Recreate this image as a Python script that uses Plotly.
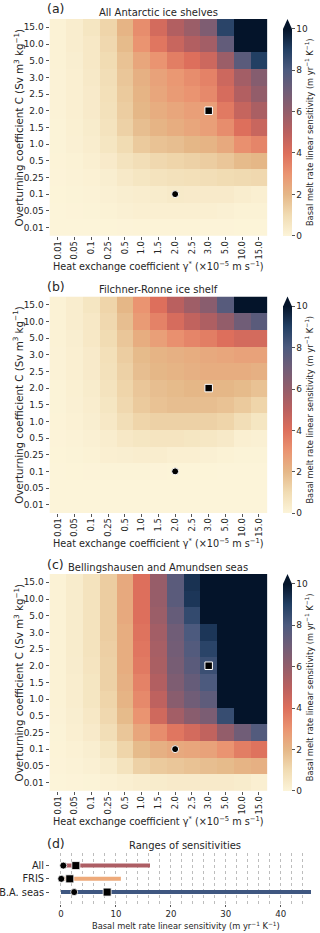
import plotly.graph_objects as go

W, H = 320, 933

gamma_labels = ["0.01", "0.05", "0.1", "0.25", "0.5", "1.0", "1.5", "2.0", "2.5", "3.0", "5.0", "10.0", "15.0"]
C_labels = ["15.0", "10.0", "5.0", "3.0", "2.5", "2.0", "1.5", "1.0", "0.5", "0.25", "0.1", "0.05", "0.01"]

# (a) All Antarctic ice shelves  (rows follow C_labels, columns follow gamma_labels)
sens_all = [
    [0.1, 0.3, 0.6, 1.2, 2.1, 3.2, 4.3, 5.2, 5.8, 6.6, 8.8, 14.0, 16.2],
    [0.1, 0.3, 0.5, 1.1, 1.9, 3.0, 3.8, 4.6, 5.2, 5.6, 7.4, 12.0, 14.0],
    [0.1, 0.25, 0.5, 1.0, 1.7, 2.5, 3.0, 3.6, 4.0, 4.5, 5.8, 7.6, 9.0],
    [0.08, 0.2, 0.45, 0.9, 1.6, 2.2, 2.6, 2.9, 3.2, 3.5, 4.5, 5.6, 6.4],
    [0.08, 0.2, 0.4, 0.85, 1.5, 2.1, 2.5, 2.8, 3.0, 3.3, 4.2, 5.2, 6.0],
    [0.07, 0.2, 0.4, 0.8, 1.4, 2.0, 2.3, 2.5, 2.7, 2.7, 3.7, 4.7, 5.4],
    [0.06, 0.18, 0.35, 0.7, 1.3, 1.8, 2.1, 2.3, 2.5, 2.7, 3.2, 4.0, 4.6],
    [0.05, 0.15, 0.3, 0.6, 1.0, 1.5, 1.7, 1.8, 2.0, 2.1, 2.4, 3.1, 3.4],
    [0.04, 0.1, 0.2, 0.4, 0.7, 0.9, 1.1, 1.2, 1.3, 1.4, 1.6, 1.9, 2.0],
    [0.03, 0.07, 0.13, 0.25, 0.45, 0.6, 0.7, 0.8, 0.85, 0.9, 1.0, 1.05, 1.1],
    [0.02, 0.05, 0.08, 0.15, 0.25, 0.3, 0.35, 0.42, 0.4, 0.4, 0.4, 0.3, 0.2],
    [0.01, 0.03, 0.05, 0.1, 0.15, 0.2, 0.2, 0.2, 0.2, 0.2, 0.15, 0.1, 0.1],
    [0.0, 0.01, 0.01, 0.02, 0.03, 0.04, 0.04, 0.04, 0.04, 0.03, 0.03, 0.02, 0.02],
]

# (b) Filchner-Ronne ice shelf
sens_fris = [
    [0.1, 0.3, 0.6, 1.2, 2.0, 3.0, 4.0, 5.0, 5.7, 6.3, 7.7, 10.5, 10.9],
    [0.1, 0.3, 0.5, 1.1, 1.8, 2.8, 3.5, 4.2, 4.8, 5.3, 6.0, 7.0, 7.6],
    [0.1, 0.25, 0.5, 1.0, 1.6, 2.3, 2.7, 3.1, 3.4, 3.6, 4.0, 4.3, 4.3],
    [0.08, 0.2, 0.4, 0.85, 1.4, 1.9, 2.1, 2.2, 2.3, 2.4, 2.5, 2.6, 2.6],
    [0.07, 0.2, 0.4, 0.8, 1.3, 1.8, 2.0, 2.1, 2.2, 2.3, 2.3, 2.3, 2.2],
    [0.06, 0.18, 0.35, 0.7, 1.2, 1.6, 1.8, 1.9, 2.0, 2.0, 2.0, 1.9, 1.7],
    [0.05, 0.15, 0.3, 0.6, 1.1, 1.5, 1.7, 1.8, 1.8, 1.8, 1.7, 1.5, 1.2],
    [0.04, 0.12, 0.25, 0.5, 0.9, 1.2, 1.3, 1.3, 1.3, 1.3, 1.2, 0.9, 0.6],
    [0.03, 0.08, 0.15, 0.3, 0.5, 0.6, 0.65, 0.65, 0.6, 0.55, 0.45, 0.2, 0.15],
    [0.02, 0.05, 0.1, 0.2, 0.25, 0.3, 0.3, 0.2, 0.2, 0.15, 0.1, 0.05, 0.05],
    [0.01, 0.02, 0.03, 0.05, 0.05, 0.05, 0.03, 0.02, 0.02, 0.02, 0.01, 0.01, 0.01],
    [0.01, 0.01, 0.01, 0.01, 0.01, 0.01, 0.01, 0.01, 0.01, 0.01, 0.01, 0.01, 0.01],
    [0.0, 0.0, 0.0, 0.0, 0.0, 0.0, 0.0, 0.0, 0.0, 0.0, 0.0, 0.0, 0.0],
]

# (c) Bellingshausen and Amundsen seas
sens_bas = [
    [0.1, 0.35, 0.7, 1.4, 2.4, 4.0, 5.9, 7.6, 9.3, 12.0, 14.0, 15.0, 16.0],
    [0.1, 0.35, 0.7, 1.4, 2.4, 4.0, 5.9, 7.6, 9.2, 12.0, 14.0, 15.0, 16.0],
    [0.1, 0.35, 0.7, 1.4, 2.4, 4.0, 5.8, 7.3, 8.6, 10.3, 13.0, 15.0, 16.0],
    [0.1, 0.33, 0.7, 1.4, 2.3, 3.9, 5.6, 7.0, 8.0, 9.2, 12.0, 15.0, 17.0],
    [0.1, 0.33, 0.7, 1.35, 2.3, 3.8, 5.5, 6.9, 7.8, 8.8, 12.0, 16.0, 18.0],
    [0.1, 0.32, 0.65, 1.3, 2.3, 3.7, 5.4, 6.8, 7.6, 8.4, 13.0, 17.0, 20.0],
    [0.1, 0.3, 0.6, 1.3, 2.2, 3.5, 5.2, 6.6, 7.3, 8.0, 13.0, 20.0, 25.0],
    [0.1, 0.3, 0.6, 1.2, 2.1, 3.3, 4.9, 6.3, 7.0, 7.5, 12.0, 25.0, 35.0],
    [0.08, 0.25, 0.5, 1.1, 1.9, 3.0, 4.4, 5.6, 6.3, 6.7, 8.5, 30.0, 45.5],
    [0.06, 0.2, 0.4, 0.9, 1.6, 2.5, 3.2, 3.8, 4.3, 4.8, 6.0, 7.0, 7.8],
    [0.04, 0.12, 0.25, 0.6, 1.2, 1.9, 2.2, 2.4, 2.5, 2.6, 3.0, 3.6, 3.9],
    [0.03, 0.08, 0.15, 0.35, 0.7, 1.3, 1.5, 1.6, 1.7, 1.8, 1.9, 2.1, 2.2],
    [0.01, 0.03, 0.06, 0.12, 0.2, 0.3, 0.35, 0.4, 0.4, 0.4, 0.4, 0.35, 0.2],
]

panel_titles = ["All Antarctic ice shelves", "Filchner-Ronne ice shelf", "Bellingshausen and Amundsen seas"]
panel_letters = ["(a)", "(b)", "(c)", "(d)"]

# reference parameter choices (marked in each heatmap)
circle_gamma, circle_C = "2.0", "0.1"
square_gamma, square_C = "3.0", "2.0"

# (d) ranges of sensitivities
range_names = ["All", "FRIS", "B.A. seas"]
range_min = [0.4, 0.0, 0.0]
range_max = [16.2, 10.9, 45.5]
range_circle = [0.42, 0.05, 2.4]
range_square = [2.7, 1.6, 8.4]
range_colors = ["#ad5e64", "#eeaa7a", "#3f5781"]

colorscale = [
    [0.0, "#fcf4d9"], [0.1, "#f1dcb3"], [0.2, "#e5b787"], [0.3, "#ea9471"],
    [0.4, "#dd6f5c"], [0.5, "#ba605f"], [0.6, "#935d6a"], [0.7, "#705d77"],
    [0.8, "#4c5a7e"], [0.9, "#223f63"], [1.0, "#04142a"],
]

FONT = "DejaVu Sans"
TXT = "#262626"
TICK_SIZE = 9
XTICK_SIZE = 8.3
YTITLE_SIZE = 10.3
XTITLE_SIZE = 9.7
CBTITLE_SIZE = 8.3
TITLE_SIZE = 10
LETTER_SIZE = 12.5


def px(x):
    return x / W


def py(y):
    return 1 - y / H


fig = go.Figure()

heat_boxes = [(49.5, 267.3, 19.0, 235.8), (49.5, 267.3, 296.5, 513.0), (49.5, 267.3, 574.0, 790.8)]
cbar_boxes = [(29.0, 235.5), (306.5, 513.0), (584.0, 790.8)]
title_y = [12.3, 289.3, 567.3]
letter_y = [8.5, 286.7, 564.3]
xtitle_y = [266.0, 542.6, 821.3]
datasets = [sens_all, sens_fris, sens_bas]

annotations = []
shapes = []

for i, data in enumerate(datasets):
    xa = "x" if i == 0 else f"x{i + 1}"
    ya = "y" if i == 0 else f"y{i + 1}"
    x0, x1, y0, y1 = heat_boxes[i]
    cb0, cb1 = cbar_boxes[i]
    fig.add_trace(go.Heatmap(
        z=data, x=gamma_labels, y=C_labels, xaxis=xa, yaxis=ya,
        colorscale=colorscale, zmin=0, zmax=10, showscale=True,
        colorbar=dict(
            x=px(283), xanchor="left", xpad=0, ypad=0,
            y=py((cb0 + cb1) / 2), yanchor="middle",
            lenmode="pixels", len=cb1 - cb0, thickness=9,
            outlinewidth=0, tickvals=[0, 2, 4, 6, 8, 10],
            ticks="outside", ticklen=3, tickcolor="#555555",
            tickfont=dict(family=FONT, size=TICK_SIZE, color=TXT),
            title=dict(text="Basal melt rate linear sensitivity (m yr<sup>−1</sup> K<sup>−1</sup>)",
                       side="right", font=dict(family=FONT, size=CBTITLE_SIZE, color=TXT)),
        ),
    ))
    fig.add_trace(go.Scatter(
        x=[circle_gamma], y=[circle_C], xaxis=xa, yaxis=ya, mode="markers",
        marker=dict(symbol="circle", size=7, color="black", line=dict(color="white", width=1)),
        showlegend=False, hoverinfo="skip"))
    fig.add_trace(go.Scatter(
        x=[square_gamma], y=[square_C], xaxis=xa, yaxis=ya, mode="markers",
        marker=dict(symbol="square", size=7.5, color="black", line=dict(color="white", width=1)),
        showlegend=False, hoverinfo="skip"))

    axis_common = dict(type="category", showgrid=False, zeroline=False, showline=False,
                       ticks="outside", ticklen=3, tickcolor="#555555")
    fig.update_layout(**{
        ("xaxis" if i == 0 else f"xaxis{i + 1}"): dict(
            axis_common, domain=[px(x0), px(x1)], anchor=ya, tickangle=-90,
            ticklabelstandoff=-2,
            tickfont=dict(family=FONT, size=XTICK_SIZE, color=TXT),
            categoryorder="array", categoryarray=gamma_labels),
        ("yaxis" if i == 0 else f"yaxis{i + 1}"): dict(
            axis_common, domain=[py(y1), py(y0)], anchor=xa, autorange="reversed",
            tickfont=dict(family=FONT, size=TICK_SIZE, color=TXT),
            categoryorder="array", categoryarray=C_labels),
    })

    # extend triangle on colorbar
    shapes.append(dict(type="path", xref="paper", yref="paper",
                       path=f"M {px(283)} {py(cb0)} L {px(292)} {py(cb0)} L {px(287.5)} {py(cb0 - 10)} Z",
                       fillcolor="#04142a", line=dict(width=0)))

    annotations.append(dict(text=panel_titles[i], x=px((x0 + x1) / 2), y=py(title_y[i]),
                            xref="paper", yref="paper", showarrow=False, xanchor="center", yanchor="middle",
                            font=dict(family=FONT, size=TITLE_SIZE, color=TXT)))
    annotations.append(dict(text=panel_letters[i], x=px(45), y=py(letter_y[i]),
                            xref="paper", yref="paper", showarrow=False, xanchor="left", yanchor="middle",
                            font=dict(family=FONT, size=LETTER_SIZE, color=TXT)))
    annotations.append(dict(text="Heat exchange coefficient γ<sup>*</sup> (×10<sup>−5</sup> m s<sup>−1</sup>)",
                            x=px((x0 + x1) / 2), y=py(xtitle_y[i]),
                            xref="paper", yref="paper", showarrow=False, xanchor="center", yanchor="middle",
                            font=dict(family=FONT, size=XTITLE_SIZE, color=TXT)))
    annotations.append(dict(text="Overturning coefficient C (Sv m<sup>3</sup> kg<sup>−1</sup>)",
                            x=px(18), y=py((y0 + y1) / 2), textangle=-90,
                            xref="paper", yref="paper", showarrow=False, xanchor="center", yanchor="middle",
                            font=dict(family=FONT, size=YTITLE_SIZE, color=TXT)))

# panel (d)
for k, name in enumerate(range_names):
    fig.add_trace(go.Scatter(
        x=[range_min[k], range_max[k]], y=[name, name], xaxis="x4", yaxis="y4", mode="lines",
        line=dict(color=range_colors[k], width=4), showlegend=False, hoverinfo="skip"))
fig.add_trace(go.Scatter(
    x=range_circle, y=range_names, xaxis="x4", yaxis="y4", mode="markers",
    marker=dict(symbol="circle", size=7, color="black", line=dict(color="white", width=0.8)),
    showlegend=False, hoverinfo="skip"))
fig.add_trace(go.Scatter(
    x=range_square, y=range_names, xaxis="x4", yaxis="y4", mode="markers",
    marker=dict(symbol="square", size=8, color="black", line=dict(color="white", width=0.8)),
    showlegend=False, hoverinfo="skip"))

fig.update_layout(
    xaxis4=dict(domain=[px(50), px(311)], anchor="y4", range=[-2, 45.5],
                tickvals=[0, 10, 20, 30, 40], ticks="outside", ticklen=2, tickcolor="#555555",
                showgrid=True, gridcolor="#bdbdbd", griddash="dot", gridwidth=1,
                minor=dict(dtick=2, tick0=0, showgrid=True, gridcolor="#bdbdbd", griddash="dot", gridwidth=1),
                zeroline=False, showline=False,
                tickfont=dict(family=FONT, size=8.6, color=TXT)),
    yaxis4=dict(domain=[py(904), py(853)], anchor="x4", type="category",
                categoryorder="array", categoryarray=range_names, range=[2.9, -0.95],
                ticks="outside", ticklen=3, tickcolor="#555555", showgrid=False, zeroline=False,
                showline=False, tickfont=dict(family=FONT, size=9.8, color=TXT)),
)
annotations.append(dict(text="Ranges of sensitivities", x=px(185), y=py(845),
                        xref="paper", yref="paper", showarrow=False, xanchor="center", yanchor="middle",
                        font=dict(family=FONT, size=TITLE_SIZE, color=TXT)))
annotations.append(dict(text=panel_letters[3], x=px(45), y=py(843.3),
                        xref="paper", yref="paper", showarrow=False, xanchor="left", yanchor="middle",
                        font=dict(family=FONT, size=LETTER_SIZE, color=TXT)))
annotations.append(dict(text="Basal melt rate linear sensitivity (m yr<sup>−1</sup> K<sup>−1</sup>)",
                        x=px(186), y=py(925.5),
                        xref="paper", yref="paper", showarrow=False, xanchor="center", yanchor="middle",
                        font=dict(family=FONT, size=CBTITLE_SIZE, color=TXT)))

fig.update_layout(
    width=W, height=H, margin=dict(l=0, r=0, t=0, b=0, pad=0),
    paper_bgcolor="white", plot_bgcolor="white",
    font=dict(family=FONT, color=TXT), showlegend=False,
    annotations=annotations, shapes=shapes,
)

fig.write_html("out.html", config={"displayModeBar": False},
               post_script="document.body.style.margin='0px';document.body.style.padding='0px';")
